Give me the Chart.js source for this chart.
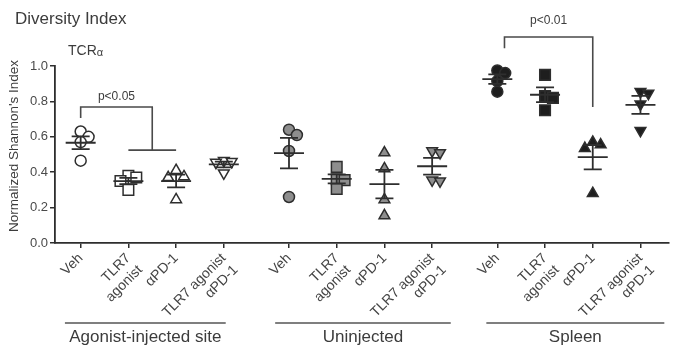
<!DOCTYPE html>
<html>
<head>
<meta charset="utf-8">
<script src="https://cdn.jsdelivr.net/npm/chart.js@4.4.0/dist/chart.umd.min.js"></script>
<style>
  html, body { margin: 0; padding: 0; background: #ffffff; }
  #wrap { width: 678px; height: 347px; }
</style>
</head>
<body>
<div id="wrap"><canvas id="c" width="678" height="347"></canvas></div>
<script>
// ---- data ---------------------------------------------------------------
const sites = ['Agonist-injected site', 'Uninjected', 'Spleen'];
const treatments = ['Veh', 'TLR7 agonist', 'αPD-1', 'TLR7 agonist αPD-1'];
const tickLabels = ['Veh', ['TLR7', 'agonist'], 'αPD-1', ['TLR7 agonist', 'αPD-1']];
const yTicks = [0, 0.2, 0.4, 0.6, 0.8, 1.0];

// normalized Shannon's index per animal
const injectedVeh   = [0.63, 0.60, 0.57, 0.465];
const injectedTLR7  = [0.38, 0.37, 0.35, 0.30];
const injectedPD1   = [0.41, 0.375, 0.37, 0.245];
const injectedCombo = [0.465, 0.46, 0.455, 0.395];

const uninjectedVeh   = [0.64, 0.61, 0.52, 0.26];
const uninjectedTLR7  = [0.43, 0.36, 0.355, 0.305];
const uninjectedPD1   = [0.51, 0.42, 0.245, 0.155];
const uninjectedCombo = [0.52, 0.51, 0.355, 0.35];

const spleenVeh   = [0.975, 0.96, 0.915, 0.855];
const spleenTLR7  = [0.95, 0.83, 0.82, 0.75];
const spleenPD1   = [0.57, 0.555, 0.535, 0.28];
const spleenCombo = [0.855, 0.845, 0.785, 0.635];

const siteSeries = [
  [injectedVeh, injectedTLR7, injectedPD1, injectedCombo],
  [uninjectedVeh, uninjectedTLR7, uninjectedPD1, uninjectedCombo],
  [spleenVeh, spleenTLR7, spleenPD1, spleenCombo]
];

// ---- layout helpers -----------------------------------------------------
const GROUP_STEP = 4.366;               // category slots per site incl. gap
const X_MIN = -0.538, X_MAX = 12.33;
const PX_PER_X = 48.33, PX_PER_Y = 177; // approximate, for point spreading only
const pos = (g, j) => g * GROUP_STEP + j;

const siteFill = ['#ffffff', '#8e8e8e', '#1e1e1e'];
const INK = '#2e2e2e';
const shapes = ['circle', 'rect', 'triangle', 'triangle'];
const shapeRot = [0, 0, 0, 180];
const shapeRadius = [5.5, 7.5, 6.2, 6.2];
const FONT = '"Liberation Sans", Arial, sans-serif';

// spread overlapping points sideways (simple beeswarm)
function spread(values, diameter, step) {
  const order = values.map((v, i) => i).sort((a, b) => values[b] - values[a]);
  const placed = [];
  const offsets = new Array(values.length).fill(0);
  const candidates = [0, 1, -1, 2, -2, 3, -3];
  for (const i of order) {
    const py = values[i] * PX_PER_Y;
    for (const c of candidates) {
      const px = c * step;
      const ok = placed.every(p => Math.hypot(p.x - px, p.y - py) >= diameter);
      if (ok) { placed.push({ x: px, y: py }); offsets[i] = px / PX_PER_X; break; }
    }
  }
  return offsets;
}

const datasets = [];
const xTickValues = [];
siteSeries.forEach((series, g) => {
  series.forEach((vals, j) => {
    const x0 = pos(g, j);
    xTickValues.push(x0);
    const off = spread(vals, 8, 8);
    datasets.push({
      label: sites[g] + ' – ' + treatments[j],
      data: vals.map((v, k) => ({ x: x0 + off[k], y: v })),
      center: x0,
      pointStyle: shapes[j],
      rotation: shapeRot[j],
      pointRadius: shapeRadius[j],
      pointHoverRadius: shapeRadius[j],
      backgroundColor: siteFill[g],
      borderColor: INK,
      borderWidth: 1.5,
      clip: false
    });
  });
});

function meanSem(vals) {
  const n = vals.length;
  const m = vals.reduce((a, b) => a + b, 0) / n;
  const sd = Math.sqrt(vals.reduce((a, b) => a + (b - m) * (b - m), 0) / (n - 1));
  return { m, sem: sd / Math.sqrt(n) };
}

// mean line with SEM whiskers over each scatter column
const errorBars = {
  id: 'errorBars',
  afterDatasetsDraw(chart) {
    const { ctx, scales: { x, y } } = chart;
    ctx.save();
    ctx.strokeStyle = INK;
    ctx.lineWidth = 1.8;
    chart.data.datasets.forEach(ds => {
      const vals = ds.data.map(p => p.y);
      const { m, sem } = meanSem(vals);
      const cx = x.getPixelForValue(ds.center);
      const ym = y.getPixelForValue(m);
      const yt = y.getPixelForValue(m + sem);
      const yb = y.getPixelForValue(m - sem);
      ctx.beginPath();
      ctx.moveTo(cx - 15, ym); ctx.lineTo(cx + 15, ym);
      ctx.moveTo(cx, yt); ctx.lineTo(cx, yb);
      ctx.moveTo(cx - 9, yt); ctx.lineTo(cx + 9, yt);
      ctx.moveTo(cx - 9, yb); ctx.lineTo(cx + 9, yb);
      ctx.stroke();
    });
    ctx.restore();
  }
};

// titles, significance brackets and site groupings
const decorations = {
  id: 'decorations',
  afterDraw(chart) {
    const { ctx, scales: { x, y } } = chart;
    const X = v => x.getPixelForValue(v);
    const Y = v => y.getPixelForValue(v);
    ctx.save();
    ctx.fillStyle = '#3c3c3c';
    ctx.strokeStyle = '#3c3c3c';
    ctx.textBaseline = 'middle';

    // headings
    ctx.font = '17px ' + FONT;
    ctx.textAlign = 'left';
    ctx.fillText('Diversity Index', 15, 19);
    ctx.font = '14px ' + FONT;
    ctx.fillText('TCR', 68, 51);
    const w = ctx.measureText('TCR').width;
    ctx.font = '11px ' + FONT;
    ctx.fillText('α', 68 + w, 53);

    // y axis title
    ctx.save();
    ctx.translate(14, 146);
    ctx.rotate(-Math.PI / 2);
    ctx.textAlign = 'center';
    ctx.font = '13.5px ' + FONT;
    ctx.fillText("Normalized Shannon's Index", 0, 0);
    ctx.restore();

    // brackets
    ctx.lineWidth = 1.6;
    ctx.strokeStyle = '#4a4a4a';
    ctx.font = '12px ' + FONT;
    ctx.textAlign = 'center';
    // Veh vs TLR7 agonist / αPD-1 at the injected site
    const a0 = X(pos(0, 0)), b1 = X(pos(0, 1)), b2 = X(pos(0, 2)), bm = (b1 + b2) / 2;
    ctx.beginPath();
    ctx.moveTo(a0, Y(0.706)); ctx.lineTo(a0, Y(0.768)); ctx.lineTo(bm, Y(0.768)); ctx.lineTo(bm, Y(0.525));
    ctx.moveTo(b1, Y(0.525)); ctx.lineTo(b2, Y(0.525));
    ctx.stroke();
    ctx.fillText('p<0.05', (a0 + bm) / 2, Y(0.825));
    // Veh vs αPD-1 in spleen
    const s0 = X(pos(2, 0) + 0.15), s2 = X(pos(2, 2));
    ctx.beginPath();
    ctx.moveTo(s0, Y(1.10)); ctx.lineTo(s0, Y(1.164)); ctx.lineTo(s2, Y(1.164)); ctx.lineTo(s2, Y(0.768));
    ctx.stroke();
    ctx.fillText('p<0.01', (s0 + s2) / 2, Y(1.254));

    // site groupings under the axis
    const spans = [[-0.33, 0.04], [-0.29, 0.39], [-0.23, 0.5]];
    ctx.font = '17px ' + FONT;
    ctx.lineWidth = 1.5;
    ctx.strokeStyle = '#555555';
    sites.forEach((name, g) => {
      const l = X(pos(g, 0) + spans[g][0]);
      const r = X(pos(g, 3) + spans[g][1]);
      ctx.beginPath();
      ctx.moveTo(l, 323); ctx.lineTo(r, 323);
      ctx.stroke();
      ctx.fillText(name, (l + r) / 2, 337);
    });
    ctx.restore();
  }
};

Chart.defaults.font.family = FONT;
Chart.defaults.color = '#444444';

new Chart(document.getElementById('c'), {
  type: 'scatter',
  data: { datasets },
  options: {
    responsive: false,
    animation: false,
    devicePixelRatio: 1,
    events: [],
    layout: { padding: { top: 66, left: 0, right: 1, bottom: 0 } },
    plugins: { legend: { display: false }, tooltip: { enabled: false } },
    scales: {
      x: {
        type: 'linear',
        min: X_MIN,
        max: X_MAX,
        afterBuildTicks: s => { s.ticks = xTickValues.map(v => ({ value: v })); },
        afterFit: s => { s.height = 104; },
        ticks: {
          autoSkip: false,
          minRotation: 45,
          maxRotation: 45,
          padding: 2,
          color: '#444444',
          font: { size: 14 },
          callback: (v, i) => tickLabels[i % 4]
        },
        grid: { drawOnChartArea: false, drawTicks: true, tickLength: 5, color: INK, lineWidth: 1.5 },
        border: { display: true, color: INK, width: 1.8 }
      },
      y: {
        min: 0,
        max: 1.0,
        afterBuildTicks: s => { s.ticks = yTicks.map(v => ({ value: v })); },
        afterFit: s => { s.width = 55; },
        ticks: {
          padding: 2,
          color: '#4a4a4a',
          font: { size: 13 },
          callback: v => v.toFixed(1)
        },
        grid: { drawOnChartArea: false, drawTicks: true, tickLength: 5, color: INK, lineWidth: 1.5 },
        border: { display: true, color: INK, width: 1.8 }
      }
    }
  },
  plugins: [errorBars, decorations]
});
</script>
</body>
</html>
